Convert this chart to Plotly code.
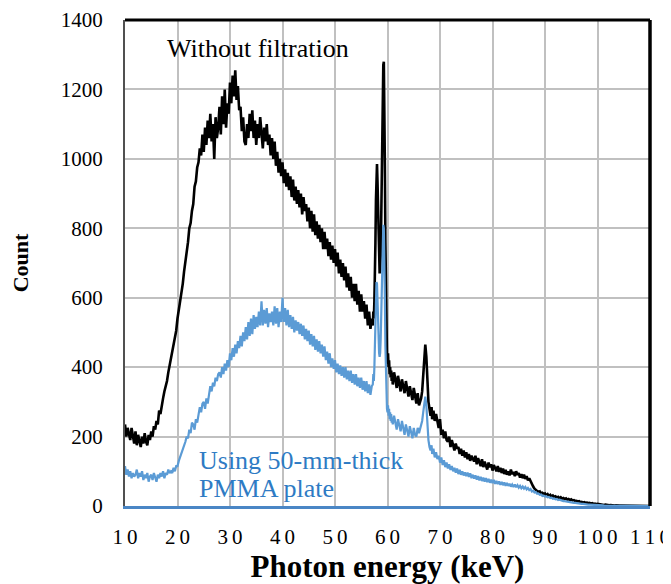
import numpy as np
import plotly.graph_objects as go

# ---------------- data (counts) ----------------
# Spectrum stored in segments: (start energy keV, channel step keV, counts)

# Without filtration (black)
black_A_start, black_A_step = 10.0, 0.25
black_A = [235, 200, 225, 210, 190, 225, 200, 180, 215, 175, 205, 185,
           170, 200, 180, 210, 185, 175, 205, 190, 215, 200, 230, 220,
           245, 235, 275, 265, 295, 310, 330, 345, 360, 385, 405, 420,
           440, 465, 480, 505, 540, 565, 590, 610, 640, 675, 700, 730,
           760, 800, 815, 850, 870, 920, 935, 975, 990, 1030, 1010, 1070,
           1020, 1090, 1040, 1110, 1060, 1130, 1050, 1100, 1000, 1120, 1060, 1090,
           1150, 1070, 1180, 1100, 1200, 1090, 1160, 1130, 1220, 1160, 1240, 1180,
           1255, 1170, 1210, 1140, 1150, 1080, 1120, 1050, 1040, 1100, 1060, 1130,
           1080, 1140, 1060, 1110, 1040, 1100, 1060, 1120, 1080, 1030, 1090, 1050,
           1100, 1040, 1070, 1010, 1060, 1000, 1050, 980, 1020, 960, 1000, 950,
           990, 930, 970, 920, 960, 910, 950, 890, 940, 880, 920, 870,
           910, 860, 900, 840, 890, 850, 870, 820, 860, 800, 850, 790,
           840, 780, 820, 770, 810, 760, 800, 740, 790, 740, 770, 720,
           760, 710, 750, 700, 740, 690, 730, 670, 710, 660, 700, 650,
           690, 630, 670, 620, 660, 600, 640, 590, 640, 580, 620, 560,
           610, 560, 590, 540, 580, 520, 560, 510, 540]
black_B_start, black_B_step = 57.2, 0.1
black_B = [520, 560, 540, 590, 650, 760, 880, 960,
           985, 930, 830, 740, 690, 670, 680, 720, 820, 980,
           1120, 1220, 1270, 1280, 1180, 980, 760, 580, 470, 430,
           410, 440, 400, 420, 380, 400, 370, 390, 360, 380]
black_C_start, black_C_step = 61.0, 0.25
black_C = [350, 385, 365, 340, 375, 350, 330, 365, 345, 325, 360, 330,
           315, 345, 320, 305, 340, 310, 295, 325, 290]
black_D_start, black_D_step = 66.2, 0.2
black_D = [300, 310, 330, 380, 440, 465, 430, 360, 300, 280, 260, 285]
black_E_start, black_E_step = 68.5, 0.25
black_E = [250, 275,
           245, 265, 240, 225,   # 69
           250, 205, 220, 195,   # 70
           215, 190, 185, 200,   # 71
           170, 190, 175, 160,   # 72
           180, 165, 170, 150,   # 73
           165, 145, 160, 140,   # 74
           155, 135, 150, 130,   # 75
           145, 135, 128, 145,   # 76
           120, 138, 125, 115,   # 77
           135, 112, 128, 118,   # 78
           105, 125, 112, 120,   # 79
           102, 118, 108, 100,   # 80
           115, 98, 110, 95,     # 81
           108, 92, 104, 90,     # 82
           100, 88, 105, 92,     # 83
           98, 86, 100, 90,      # 84
           95, 82, 92, 80,       # 85
           90, 78, 86, 74,       # 86
           80, 70, 66, 56,       # 87
           50, 46, 42, 40,       # 88
           42, 36, 38, 34,       # 89
           36, 31, 34, 29,       # 90
           32, 27, 30, 26,       # 91
           28, 24, 26, 22,       # 92
           25, 21, 23, 20,       # 93
           22, 18, 20, 17,       # 94
           19, 16, 17, 14,       # 95
           15, 13, 14, 11,       # 96
           12, 10, 11, 9,        # 97
           10, 8, 9, 7,          # 98
           8, 6, 7, 5,           # 99
           6, 5, 5, 4,           # 100
           4, 3, 4, 3,           # 101
           3, 2, 3, 2,           # 102
           2, 1, 2, 1,           # 103
           1, 1, 1, 1,           # 104
           0, 0, 0, 0, 0, 0, 0, 0, 0, 0,
           0, 0, 0, 0, 0, 0, 0, 0, 0, 0, 0]

# Using 50-mm-thick PMMA plate (blue)
blue_A_start, blue_A_step = 10.0, 0.25
blue_A = [115, 90, 105, 85, 100, 80, 95, 85, 90, 105, 80, 95,
          85, 100, 75, 90, 80, 95, 70, 85, 90, 75, 95, 80,
          70, 90, 80, 95, 85, 100, 80, 95, 90, 105, 95, 100,
          95, 110, 100, 115, 115, 130, 140, 155, 160, 175, 185, 200,
          195, 220, 210, 240, 235, 220, 250, 240, 260, 285, 270, 295,
          300, 280, 310, 295, 320, 345, 330, 355, 345, 370, 360, 380,
          385, 370, 400, 380, 410, 390, 420, 400, 440, 420, 455, 430,
          465, 440, 475, 455, 490, 460, 500, 475, 515, 480, 530, 490,
          540, 495, 550, 510, 545, 515, 560, 520, 590, 520, 565, 525,
          570, 515, 555, 530, 560, 520, 575, 525, 570, 515, 560, 530,
          600, 530, 570, 520, 565, 515, 550, 510, 545, 500, 535, 505,
          530, 495, 525, 490, 520, 480, 510, 475, 505, 465, 495, 460,
          490, 450, 480, 445, 475, 440, 465, 430, 460, 420, 445, 410,
          440, 400, 425, 395, 420, 385, 410, 380, 405, 375, 400, 370,
          400, 365, 390, 360, 390, 355, 380, 350, 380, 345, 370, 340,
          370, 335, 360, 330, 360, 325, 350, 320, 345]
blue_B_start, blue_B_step = 57.2, 0.1
blue_B = [350, 380, 360, 400, 450, 520, 600, 645,
          640, 590, 520, 470, 440, 430, 440, 480, 560, 660,
          740, 790, 810, 800, 730, 600, 460, 360, 300, 280,
          270, 290, 260, 280, 250, 270, 245, 265, 240, 255]
blue_C_start, blue_C_step = 61.0, 0.25
blue_C = [235, 260, 240, 220, 250, 230, 215, 245, 225, 205, 235, 215,
          200, 230, 210, 195, 225, 205, 200, 225, 210]
blue_D_start, blue_D_step = 66.2, 0.2
blue_D = [220, 230, 245, 270, 300, 315, 290, 230, 190, 170, 160, 175]
blue_E_start, blue_E_step = 68.5, 0.25
blue_E = [150, 165,
          140, 155, 135, 145,   # 69
          125, 140, 118, 132,   # 70
          112, 125, 108, 120,   # 71
          104, 115, 100, 110,   # 72
          96, 108, 92, 104,     # 73
          90, 100, 88, 97,      # 74
          86, 96, 84, 94,       # 75
          80, 90, 79, 88,       # 76
          76, 86, 74, 84,       # 77
          72, 82, 70, 80,       # 78
          69, 78, 67, 76,       # 79
          66, 75, 64, 72,       # 80
          63, 71, 61, 69,       # 81
          60, 68, 58, 66,       # 82
          58, 64, 56, 62,       # 83
          55, 62, 54, 60,       # 84
          53, 58, 51, 56,       # 85
          50, 55, 48, 52,       # 86
          46, 49, 42, 44,       # 87
          39, 40, 35, 36,       # 88
          32, 33, 29, 30,       # 89
          27, 28, 25, 26,       # 90
          23, 24, 21, 22,       # 91
          19, 20, 17, 18,       # 92
          16, 16, 14, 14,       # 93
          13, 13, 11, 11,       # 94
          10, 10, 9, 9,         # 95
          8, 8, 7, 7,           # 96
          6, 6, 5, 5,           # 97
          5, 4, 4, 4,           # 98
          3, 3, 3, 3,           # 99
          2, 2, 2, 2,           # 100
          2, 1, 1, 1,           # 101
          1, 1, 1, 1,           # 102
          0, 0, 0, 0, 0, 0, 0, 0, 0, 0,
          0, 0, 0, 0, 0, 0, 0, 0, 0, 0,
          0, 0, 0, 0, 0, 0, 0, 0, 0]

x_ticks = [10, 20, 30, 40, 50, 60, 70, 80, 90, 100, 110]
y_ticks = [0, 200, 400, 600, 800, 1000, 1200, 1400]

label_black = "Without filtration"
label_blue_1 = "Using 50-mm-thick"
label_blue_2 = "PMMA plate"


def assemble(segments):
    xs, ys = [], []
    for start, step, vals in segments:
        xs.extend(start + step * np.arange(len(vals)))
        ys.extend(vals)
    return np.array(xs), np.array(ys)


bx, by = assemble([(black_A_start, black_A_step, black_A),
                   (black_B_start, black_B_step, black_B),
                   (black_C_start, black_C_step, black_C),
                   (black_D_start, black_D_step, black_D),
                   (black_E_start, black_E_step, black_E)])
ux, uy = assemble([(blue_A_start, blue_A_step, blue_A),
                   (blue_B_start, blue_B_step, blue_B),
                   (blue_C_start, blue_C_step, blue_C),
                   (blue_D_start, blue_D_step, blue_D),
                   (blue_E_start, blue_E_step, blue_E)])

SERIF = "Times New Roman"
BLUE_LINE = "#5B9BD5"
BLUE_TEXT = "#2E7BC4"
GRID = "#C0C0C0"

fig = go.Figure()
fig.add_trace(go.Scatter(x=bx, y=by, mode="lines",
                         line=dict(color="black", width=2.6), showlegend=False))
fig.add_trace(go.Scatter(x=ux, y=uy, mode="lines",
                         line=dict(color=BLUE_LINE, width=2.2), showlegend=False))

tick_text = ["\u2009".join(str(v)) for v in x_ticks]

# the page body adds an 8 px offset; plot area kept at the reference position
fig.update_layout(
    width=671, height=576,
    margin=dict(l=117, r=29, t=12, b=78),
    paper_bgcolor="white", plot_bgcolor="white",
    font=dict(family=SERIF, color="black"),
    xaxis=dict(range=[10, 110], tickvals=x_ticks, ticktext=tick_text,
               tickfont=dict(size=21, family=SERIF), showgrid=True,
               gridcolor=GRID, gridwidth=1.5, zeroline=False,
               showline=True, linecolor="#4A86C5", linewidth=2.5,
               ticks="", ticklabelstandoff=10, automargin=False,
               ticklabeloverflow="allow",
               title=dict(text="<b>Photon energy (keV)</b>",
                          font=dict(size=31, family=SERIF), standoff=12)),
    yaxis=dict(range=[0, 1400], tickvals=y_ticks,
               tickfont=dict(size=21, family=SERIF), showgrid=True,
               gridcolor=GRID, gridwidth=1.5, zeroline=False,
               showline=True, linecolor="#505050", linewidth=2,
               ticks="", ticklabelstandoff=16, automargin=False,
               ticklabeloverflow="allow",
               title=dict(text="<b>Count</b>",
                          font=dict(size=22, family=SERIF), standoff=27)),
    shapes=[
        dict(type="line", xref="paper", yref="paper", x0=0, x1=1, y0=1, y1=1,
             line=dict(color="black", width=3)),
        dict(type="line", xref="paper", yref="paper", x0=1, x1=1, y0=0, y1=1,
             line=dict(color="black", width=3.5)),
    ],
    annotations=[
        dict(x=17.6, y=1319, xref="x", yref="y", text=label_black,
             showarrow=False, xanchor="left", yanchor="middle",
             font=dict(size=26, family=SERIF, color="black")),
        dict(x=23.7, y=132, xref="x", yref="y", text=label_blue_1,
             showarrow=False, xanchor="left", yanchor="middle",
             font=dict(size=26, family=SERIF, color=BLUE_TEXT)),
        dict(x=23.7, y=49, xref="x", yref="y", text=label_blue_2,
             showarrow=False, xanchor="left", yanchor="middle",
             font=dict(size=26, family=SERIF, color=BLUE_TEXT)),
    ],
)

fig.write_html("out.html")
